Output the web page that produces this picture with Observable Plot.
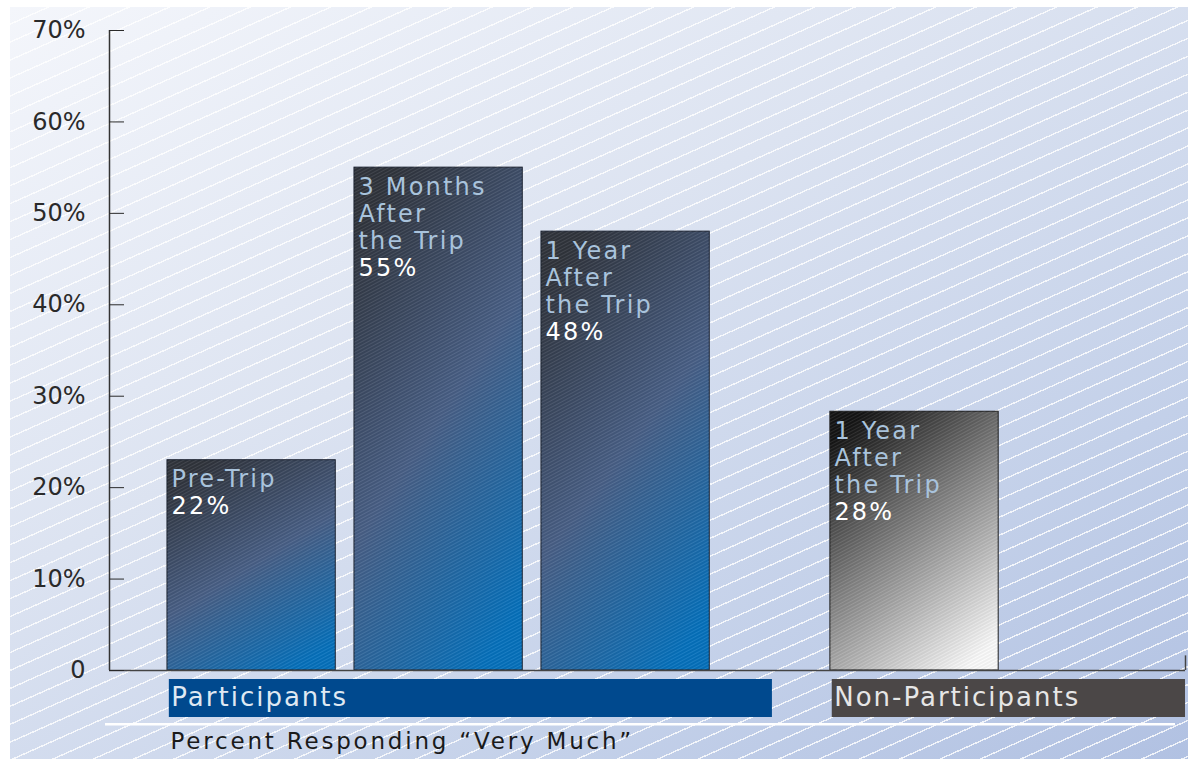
<!DOCTYPE html>
<html><head><meta charset="utf-8">
<script src="https://cdn.jsdelivr.net/npm/d3@7"></script>
<script src="https://cdn.jsdelivr.net/npm/@observablehq/plot@0.6"></script>
<style>
html,body{margin:0;padding:0;background:#fff;}
#wrap{position:relative;width:1195px;height:759px;overflow:hidden;}
#panel{position:absolute;left:10px;top:7px;width:1178px;height:752px;
 background:
  repeating-linear-gradient(156deg, rgba(255,255,255,0) 0px, rgba(255,255,255,0) 15px, rgba(255,255,255,0.8) 15px, rgba(255,255,255,0.8) 16.4px),
  linear-gradient(150deg, #f4f6fb 0%, #dce3f1 40%, #c3d0e9 75%, #b1c1e2 100%);}
#chart{position:absolute;left:0;top:0;}
.bar-category text, .bar-value text {letter-spacing:2.2px;}
.group-label text {letter-spacing:2px;}
.axis-title text {letter-spacing:2.8px;}
</style>
</head><body>
<div id="wrap"><div id="panel"></div><div id="chart"></div></div>
<script>
// ---- data ----
const categories = ["Pre-Trip", "3 Months\nAfter\nthe Trip", "1 Year\nAfter\nthe Trip", "1 Year\nAfter\nthe Trip"];
const groups = ["Participants", "Participants", "Participants", "Non-Participants"];
const values = [23, 55, 48, 28.3];
const valueLabels = ["22%", "55%", "48%", "28%"];
const groupNames = ["Participants", "Non-Participants"];
const yTicks = [0, 10, 20, 30, 40, 50, 60, 70];
const axisTitle = "Percent Responding \u201CVery Much\u201D";

// ---- layout (slot units along x) ----
const firstStart = 0.31, barWidth = 0.9, groupShift = 3.545, xMax = 5.754;
const groupBandEnd = {"Participants": 3.545, "Non-Participants": xMax};
const groupColor = {"Participants": "#00498e", "Non-Participants": "#4b4747"};
const groupText = {"Participants": "#dfe8f2", "Non-Participants": "#e6e6e6"};

const counters = {};
const bars = categories.map((c, i) => {
  const g = groups[i];
  const gi = groupNames.indexOf(g);
  const k = counters[g] = (counters[g] ?? -1) + 1;
  const x1 = firstStart + gi * groupShift + k;
  const nLines = c.split("\n").length;
  return {category: c, group: g, value: values[i], label: "\u00a0\n".repeat(nLines) + valueLabels[i], x1, x2: x1 + barWidth};
});
const bandData = groupNames.map(g => {
  const first = bars.find(b => b.group === g);
  return {group: g, x1: first.x1 + 0.01, x2: groupBandEnd[g]};
});

function defs() {
  const d = d3.create("svg:defs");
  const gp = d.append("linearGradient").attr("id", "gP").attr("x1", 0.25).attr("y1", 0).attr("x2", 0.75).attr("y2", 1);
  gp.append("stop").attr("offset", "0%").attr("stop-color", "#30343c");
  gp.append("stop").attr("offset", "50%").attr("stop-color", "#485f86");
  gp.append("stop").attr("offset", "100%").attr("stop-color", "#0571bd");
  const gn = d.append("linearGradient").attr("id", "gN").attr("x1", 0.2).attr("y1", 0).attr("x2", 0.8).attr("y2", 1);
  gn.append("stop").attr("offset", "0%").attr("stop-color", "#141414");
  gn.append("stop").attr("offset", "45%").attr("stop-color", "#808080");
  gn.append("stop").attr("offset", "100%").attr("stop-color", "#fbfbfb");
  const pat = d.append("pattern").attr("id", "hatch").attr("width", 3).attr("height", 3)
    .attr("patternUnits", "userSpaceOnUse").attr("patternTransform", "rotate(-28)");
  pat.append("rect").attr("width", 3).attr("height", 1).attr("fill", "rgba(255,255,255,0.09)");
  pat.append("rect").attr("y", 1.5).attr("width", 3).attr("height", 1).attr("fill", "rgba(0,0,0,0.09)");
  return d.node();
}

function bands(index, scales) {
  const g = d3.create("svg:g");
  const y0 = scales.y(0);
  for (const b of bandData) {
    g.append("rect").attr("x", scales.x(b.x1)).attr("width", scales.x(b.x2) - scales.x(b.x1))
      .attr("y", y0 + 9).attr("height", 38).attr("fill", groupColor[b.group]);
  }
  g.append("rect").attr("x", scales.x(0) - 4).attr("width", scales.x(xMax) - scales.x(0) - 6)
    .attr("y", y0 + 53).attr("height", 2.5).attr("fill", "#ffffff");
  return g.node();
}

const chart = Plot.plot({
  width: 1195,
  height: 759,
  marginLeft: 109,
  marginRight: 10,
  marginTop: 30,
  marginBottom: 89,
  style: {background: "transparent", fontFamily: "DejaVu Sans", fontSize: "24px", color: "#2a2a2a", overflow: "visible"},
  x: {type: "linear", domain: [0, xMax], axis: null},
  y: {domain: [0, 70], axis: null, label: null},
  marks: [
    defs,
    bands,
    Plot.rect(bars.filter(d => d.group === "Participants"), {x1: "x1", x2: "x2", y1: 0, y2: "value", fill: "url(#gP)", stroke: "#1b2230", strokeWidth: 1}),
    Plot.rect(bars.filter(d => d.group === "Non-Participants"), {x1: "x1", x2: "x2", y1: 0, y2: "value", fill: "url(#gN)", stroke: "#1b1b1b", strokeWidth: 1}),
    Plot.rect(bars, {x1: "x1", x2: "x2", y1: 0, y2: "value", fill: "url(#hatch)"}),
    Plot.ruleX([0], {y1: 0, y2: 70, stroke: "#333", strokeWidth: 1.5}),
    Plot.ruleY([0], {stroke: "#444", strokeWidth: 1.5}),
    Plot.ruleX([xMax], {y1: 0, y2: 1.6, stroke: "#444", strokeWidth: 1.5}),
    Plot.axisY({ticks: yTicks, tickSize: -15, tickPadding: 39, label: null, tickFormat: d => d === 0 ? "0" : d + "%", fontSize: 24}),
    Plot.text(bars, {x: "x1", y: "value", text: "category", dx: 4, dy: 8, textAnchor: "start", lineAnchor: "top", lineHeight: 1.125, fill: "#a9c3dc", fontSize: 24, className: "bar-category"}),
    Plot.text(bars, {x: "x1", y: "value", text: "label", dx: 4, dy: 8, textAnchor: "start", lineAnchor: "top", lineHeight: 1.125, fill: "#ffffff", fontSize: 24, className: "bar-value"}),
    Plot.text(bandData, {x: "x1", y: 0, text: "group", dx: 2, dy: 17, textAnchor: "start", lineAnchor: "top", fill: d => groupText[d.group], fontSize: 26, className: "group-label"}),
    Plot.text([axisTitle], {x: firstStart, y: 0, text: d => d, dx: 3, dy: 62, textAnchor: "start", lineAnchor: "top", fill: "#1a1a1a", fontSize: 23, className: "axis-title"})
  ]
});
document.getElementById("chart").append(chart);
</script>
</body></html>
